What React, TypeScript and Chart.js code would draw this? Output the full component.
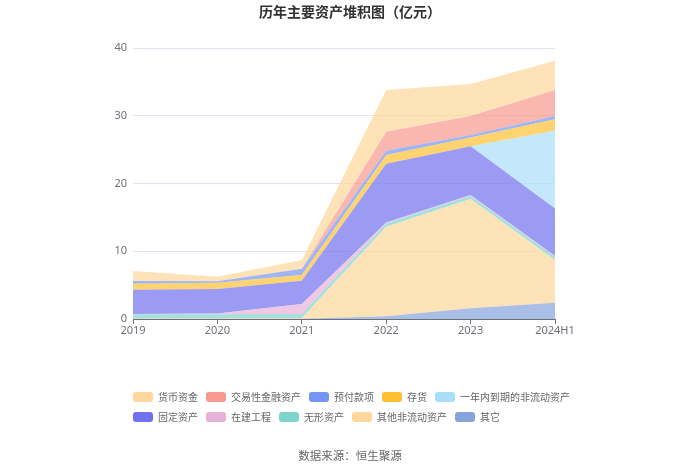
import React, { useEffect, useRef } from "react";
import { Chart, registerables } from "chart.js";

Chart.register(...registerables);

// ---- data ----
const categories = ["2019", "2020", "2021", "2022", "2023", "2024H1"];
const yTickStep = 10;
const yMax = 40;

const chartTitle = "历年主要资产堆积图（亿元）";
const sourceText = "数据来源：恒生聚源";

// legend order (top of stack first)
const seriesNames = [
  "货币资金",
  "交易性金融资产",
  "预付款项",
  "存货",
  "一年内到期的非流动资产",
  "固定资产",
  "在建工程",
  "无形资产",
  "其他非流动资产",
  "其它",
];

const cash = [1.5, 0.65, 1.27, 6.15, 4.75, 4.3];
const tradingFinancialAssets = [0, 0, 0, 2.8, 2.8, 3.84];
const prepayments = [0.4, 0.25, 0.93, 0.65, 0.35, 0.5];
const inventory = [0.9, 0.9, 0.84, 1.3, 1.3, 1.67];
const nonCurrentDueWithinYear = [0, 0, 0, 0, 0, 11.5];
const fixedAssets = [3.55, 3.64, 3.46, 8.65, 7.2, 7.0];
const constructionInProgress = [0.05, 0.1, 1.45, 0.15, 0.1, 0.1];
const intangibleAssets = [0.6, 0.6, 0.6, 0.5, 0.5, 0.5];
const otherNonCurrentAssets = [0.05, 0.05, 0.1, 13.2, 16.1, 6.3];
const others = [0.05, 0.05, 0.05, 0.4, 1.6, 2.4];

const seriesValues = [
  cash,
  tradingFinancialAssets,
  prepayments,
  inventory,
  nonCurrentDueWithinYear,
  fixedAssets,
  constructionInProgress,
  intangibleAssets,
  otherNonCurrentAssets,
  others,
];

const seriesColors = [
  "#FDD79B",
  "#F8988F",
  "#7595F2",
  "#FDC033",
  "#A9DEF9",
  "#7070F0",
  "#E8B2D8",
  "#7ED3CD",
  "#FDD79B",
  "#84A4DA",
];

const FONT = "'Noto Sans', 'Noto Sans CJK SC', sans-serif";
const CJK_FONT = "'Noto Sans CJK SC', 'Noto Sans', sans-serif";

function withAlpha(hex: string, a: number) {
  const n = parseInt(hex.slice(1), 16);
  return `rgba(${(n >> 16) & 255},${(n >> 8) & 255},${n & 255},${a})`;
}

const decorPlugin = {
  id: "decor",
  afterDraw(chart: any) {
    const ctx = chart.ctx as CanvasRenderingContext2D;
    const W = chart.width;
    ctx.save();
    // title
    ctx.fillStyle = "#333";
    ctx.font = `bold 14px ${CJK_FONT}`;
    ctx.textAlign = "center";
    ctx.textBaseline = "middle";
    ctx.fillText(chartTitle, W / 2, 12);

    // legend
    const startX = chart.chartArea.left;
    const maxRight = 590;
    const boxW = 20;
    const boxH = 10;
    const textGap = 5;
    const itemGap = 8;
    const rowGap = 20;
    let x = startX;
    let y = 397;
    ctx.font = `10px ${CJK_FONT}`;
    ctx.textAlign = "left";
    seriesNames.forEach((name, i) => {
      const tw = ctx.measureText(name).width;
      const itemW = boxW + textGap + tw;
      if (x > startX && x + itemW > maxRight) {
        x = startX;
        y += rowGap;
      }
      ctx.fillStyle = seriesColors[i];
      ctx.beginPath();
      (ctx as any).roundRect(x, y - boxH / 2, boxW, boxH, 3);
      ctx.fill();
      ctx.fillStyle = "#666";
      ctx.fillText(name, x + boxW + textGap, y);
      x += itemW + itemGap;
    });

    // source
    ctx.font = `11.5px ${CJK_FONT}`;
    ctx.fillStyle = "#666";
    ctx.textAlign = "center";
    ctx.fillText(sourceText, W / 2, 456);
    ctx.restore();
  },
};

export default function App() {
  const ref = useRef<HTMLCanvasElement | null>(null);

  useEffect(() => {
    if (!ref.current) return;
    // stacking order: bottom first
    const order = seriesNames.map((_, i) => i).reverse();
    const datasets = order.map((idx, k) => ({
      label: seriesNames[idx],
      data: seriesValues[idx],
      backgroundColor: withAlpha(seriesColors[idx], 0.7),
      borderColor: withAlpha(seriesColors[idx], 0.7),
      borderWidth: 0,
      pointRadius: 0,
      pointHoverRadius: 0,
      tension: 0,
      fill: k === 0 ? "origin" : "-1",
    }));

    const chart = new Chart(ref.current, {
      type: "line",
      data: { labels: categories, datasets },
      options: {
        responsive: false,
        animation: false,
        devicePixelRatio: 1,
        layout: { padding: { left: 0, right: 145, top: 48, bottom: 124 } },
        plugins: {
          legend: { display: false },
          title: { display: false },
          tooltip: { enabled: false },
        },
        scales: {
          x: {
            type: "category",
            offset: false,
            grid: {
              drawOnChartArea: false,
              drawTicks: true,
              tickLength: 5,
              color: "#6E7079",
            },
            border: { display: true, color: "#6E7079" },
            ticks: {
              color: "#6E7079",
              font: { size: 11, family: FONT },
              padding: 0,
              maxRotation: 0,
              autoSkip: false,
            },
            afterFit: (s: any) => {
              s.height = 30;
            },
          },
          y: {
            stacked: true,
            min: 0,
            max: yMax,
            ticks: {
              stepSize: yTickStep,
              color: "#6E7079",
              font: { size: 11, family: FONT },
              padding: 6,
            },
            grid: { color: "#E0E6F1", drawTicks: false },
            border: { display: false },
            afterFit: (s: any) => {
              s.width = 133;
            },
          },
        },
      },
      plugins: [decorPlugin],
    });
    return () => chart.destroy();
  }, []);

  return (
    <div style={{ position: "fixed", left: 0, top: 0, width: 700, height: 473, background: "#fff" }}>
      <canvas ref={ref} width={700} height={473} style={{ width: 700, height: 473, display: "block" }} />
    </div>
  );
}
